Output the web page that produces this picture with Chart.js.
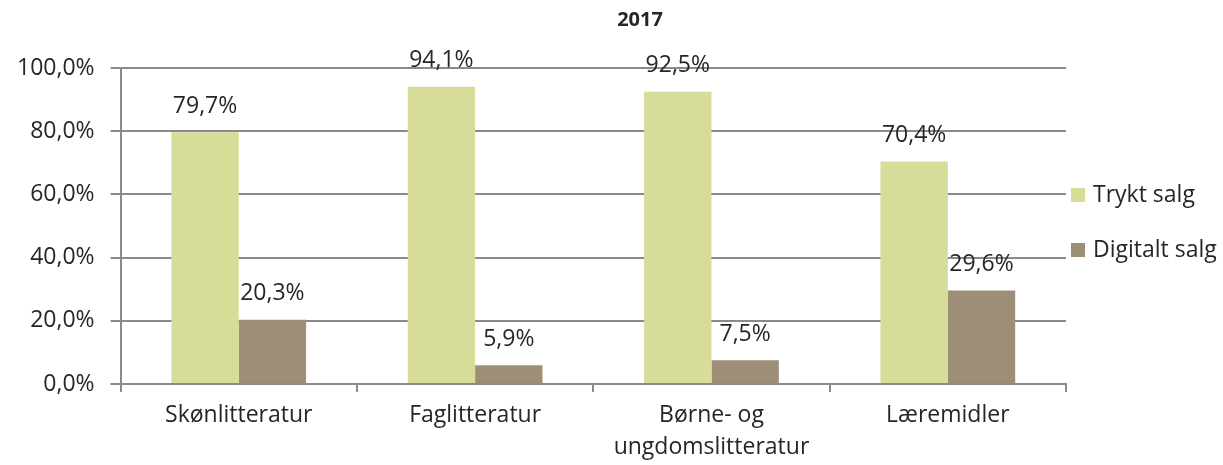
<!DOCTYPE html>
<html>
<head>
<meta charset="utf-8">
<script src="https://cdn.jsdelivr.net/npm/chart.js@4/dist/chart.umd.min.js"></script>
<style>
  html, body { margin: 0; padding: 0; background: #fff; }
  #wrap { width: 1223px; height: 465px; }
</style>
</head>
<body>
<div id="wrap"><canvas id="chartCanvas"></canvas></div>
<script>
// ---------- data ----------
const categories = ["Skønlitteratur", "Faglitteratur", ["Børne- og", "ungdomslitteratur"], "Læremidler"];
const seriesNames = ["Trykt salg", "Digitalt salg"];
const tryktValues = [79.7, 94.1, 92.5, 70.4];
const digitalValues = [20.3, 5.9, 7.5, 29.6];
const yTicks = [0, 20, 40, 60, 80, 100];
const chartSubtitle = "2017";

const FONT = "'Open Sans', 'Noto Sans', sans-serif";
const TEXT = "#262626";
const GRID = "#8a8a8a";

function pct(v, digits) {
  return v.toFixed(digits).replace(".", ",") + "%";
}

// value labels above bars
const barLabels = {
  id: "barLabels",
  afterDatasetsDraw(chart) {
    const ctx = chart.ctx;
    ctx.save();
    ctx.font = "23px " + FONT;
    ctx.fillStyle = TEXT;
    ctx.textAlign = "center";
    ctx.textBaseline = "middle";
    chart.data.datasets.forEach((ds, i) => {
      const meta = chart.getDatasetMeta(i);
      meta.data.forEach((bar, j) => {
        ctx.fillText(pct(ds.data[j], 1), bar.x, bar.y - 26);
      });
    });
    ctx.restore();
  }
};

// title + legend on the right (drawn by hand so spacing matches)
const sideLegend = {
  id: "sideLegend",
  afterDraw(chart) {
    const ctx = chart.ctx;
    ctx.save();
    ctx.font = "bold 20px " + FONT;
    ctx.fillStyle = TEXT;
    ctx.textAlign = "center";
    ctx.textBaseline = "middle";
    ctx.fillText(chartSubtitle, 640, 20);

    ctx.font = "23px " + FONT;
    ctx.textAlign = "left";
    const x = chart.chartArea.right + 5;
    const ys = [195, 250];
    chart.data.datasets.forEach((ds, i) => {
      ctx.fillStyle = ds.backgroundColor;
      ctx.fillRect(x, ys[i] - 7, 14, 14);
      ctx.fillStyle = TEXT;
      ctx.fillText(ds.label, x + 22, ys[i]);
    });
    ctx.restore();
  }
};

new Chart(document.getElementById("chartCanvas"), {
  type: "bar",
  data: {
    labels: categories,
    datasets: [
      { label: seriesNames[0], data: tryktValues, backgroundColor: "#d7dc98" },
      { label: seriesNames[1], data: digitalValues, backgroundColor: "#9d8f77" }
    ]
  },
  options: {
    responsive: true,
    maintainAspectRatio: false,
    animation: false,
    devicePixelRatio: 1,
    layout: { padding: { top: 68, left: 1, right: 157, bottom: 2 } },
    plugins: {
      legend: { display: false },
      title: { display: false },
      tooltip: { enabled: false }
    },
    datasets: {
      bar: { categoryPercentage: 0.57, barPercentage: 1.0 }
    },
    scales: {
      x: {
        afterFit(scale) { scale.height = 79; },
        grid: { display: true, offset: true, drawOnChartArea: false, color: GRID, lineWidth: 2, tickLength: 8 },
        border: { color: GRID, width: 2 },
        ticks: { color: TEXT, font: { family: FONT, size: 23, lineHeight: 1.4 }, padding: 7, maxRotation: 0 }
      },
      y: {
        min: 0,
        max: 100,
        afterBuildTicks(scale) {
          scale.ticks = yTicks.map(v => ({ value: v }));
        },
        grid: { color: GRID, lineWidth: 2, tickLength: 10 },
        border: { color: GRID, width: 2 },
        ticks: {
          color: TEXT,
          font: { family: FONT, size: 23 },
          padding: 16,
          callback: v => pct(v, 1)
        }
      }
    }
  },
  plugins: [barLabels, sideLegend]
});
</script>
</body>
</html>
